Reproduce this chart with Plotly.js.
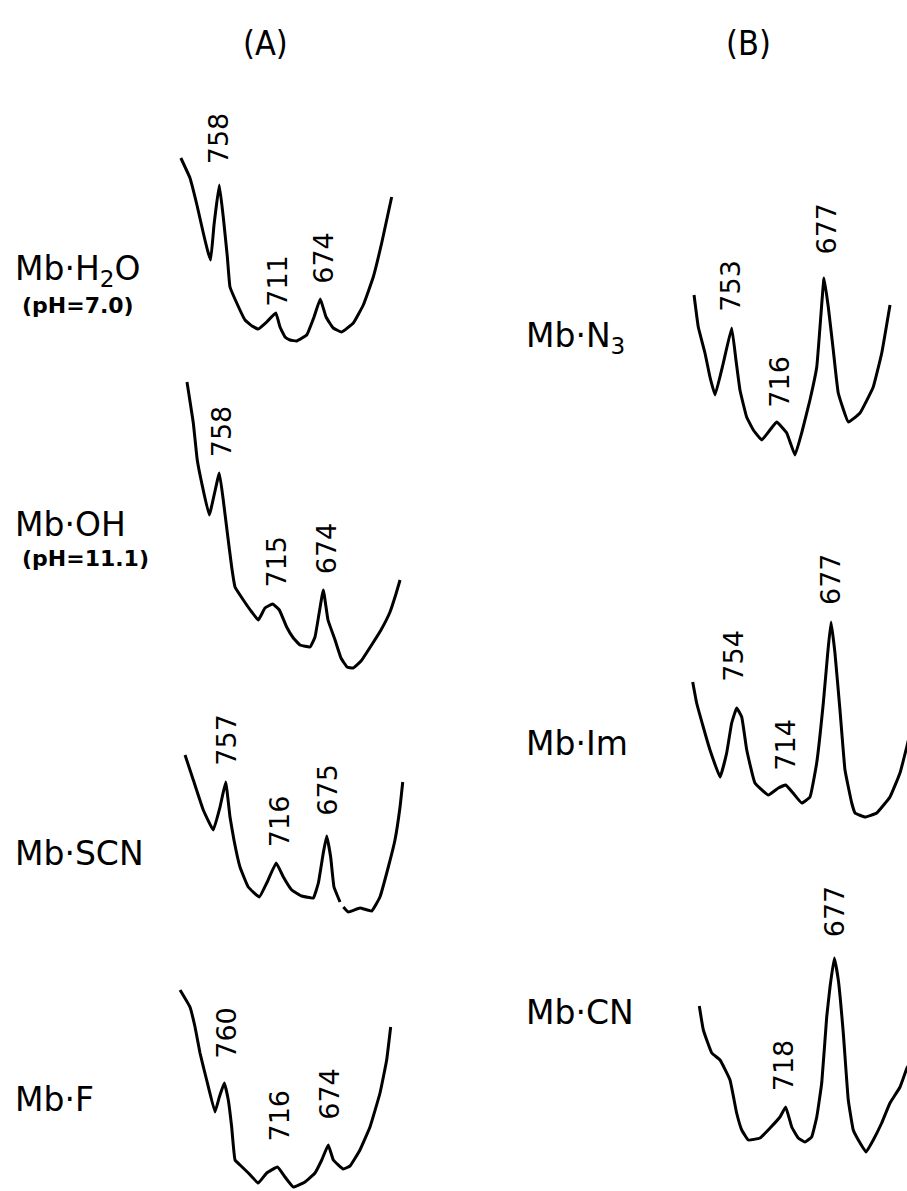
<!DOCTYPE html>
<html><head><meta charset="utf-8">
<script src="https://cdn.plot.ly/plotly-3.0.1.min.js"></script>
<style>html,body{margin:0;padding:0;background:#fff}#chart{width:907px;height:1191px}</style>
</head><body><div id="chart"></div>
<script>
// ---- spectra: wavenumber (cm-1) and relative intensity (arb. units) ----
const h2oWn  = [790,782.4,776.6,771.3,767.4,765.2,762.4,758,754.7,751.3,749.1,743.5,736.6,730.8,725.6,718.6,711,707.5,703.3,699.2,693.6,685.3,679.2,674,669.2,663.2,656.2,646.5,638.2,629.9,622.9,618.2,614.6];
const h2oInt = [183,163,136,108,89,81,116,156,124,84,54,38,21,15,12,19,28,14,4,1,0,6,24,42,24,13,9,18,36,64,98,124,144];

const ohWn  = [784.1,779,775.8,772.2,766.1,758,754.8,751.5,748,745.3,738.6,731.8,726.5,721.1,715,709.5,703.6,698.2,692.8,684.7,680.7,674,670.2,664.5,659.7,654.8,650,643.5,635.5,627.4,620.1,615.3,612];
const ohInt = [286,245,208,185,153,195,168,135,101,81,68,56,48,60,64,58,41,30,23,21,31,78,48,28,10,1,0,7,22,38,56,74,88];

const scnWn  = [790,783.3,775.2,767.1,761.6,757,753.5,750.3,745.4,738.7,729.7,723.7,716,710.2,703.4,695.3,685.9,681.8,677.8,675,671.8,669.1,664.2,null,661.5,657.5,648,638.5,631.8,625,619.6,615.5,613.3];
const scnInt = [157,132,102,82,105,130,95,72,45,25,15,29,49,35,22,16,14,29,59,76,55,25,10,null,5,0,4,1,15,45,72,105,130];

const fWn  = [796.6,788.4,784.2,780.1,774.6,767.7,764.1,760,756.7,753.9,751.1,747,740.1,731.9,724.9,716,709.8,702.9,693.3,685,679.4,674,669.8,661.6,656,647.8,639.5,631.2,625.7,622.4];
const fInt = [197,180,160,134,107,75,90,104,87,60,27,22,14,4,14,20,10,0,5,14,27,42,27,18,21,37,60,94,127,160];

const n3Wn  = [784,780.5,775,770.9,766.7,759.9,753,749.5,746.2,740.7,735.2,728.3,721.5,716,707.7,700.9,695.4,688.6,683,679.7,677,673.5,669.4,665.3,657,647.4,636.5,629.5,622.7];
const n3Int = [160,128,102,78,60,92,127,95,65,38,25,15,25,33,22,0,22,55,88,138,177,148,105,62,33,42,68,102,150];

const imWn  = [789.9,786.7,781.3,775.8,767.6,762.2,758.1,754,749.9,745.8,739.1,728.2,720,714,708,700.9,694.2,688.7,683.3,679.7,677,673.8,669.7,665.6,660.1,657.4,649.3,639.7,628.9,620.7,615.2,610.9];
const imInt = [135,114,90,67,40,64,94,109,100,67,34,22,29,32,24,14,20,54,114,164,195,164,107,47,14,4,0,4,20,44,70,92];

const cnWn  = [790.9,787.5,780.4,773.4,765,759.4,755.1,749.6,739.7,731.2,722.8,718,712.9,707.4,701.7,696.1,691.8,687.6,683.4,680.6,677,673.6,669.4,665.2,661,656.7,650.2,644.1,637,630,621.5,615.6,611.4];
const cnInt = [146,122,99,92,72,39,22,12,14,24,35,45,25,14,10,15,35,69,135,165,194,172,119,52,22,12,0,12,29,49,65,84,92];

// peak labels (cm-1)
const h2oPeaks = [758,711,674];
const ohPeaks  = [758,715,674];
const scnPeaks = [757,716,675];
const fPeaks   = [760,716,674];
const n3Peaks  = [753,716,677];
const imPeaks  = [754,714,677];
const cnPeaks  = [718,677];

// text
const panelTitles = ["(A)","(B)"];
const sampleNames = ["Mb·H<sub>2</sub>O","Mb·OH","Mb·SCN","Mb·F","Mb·N<sub>3</sub>","Mb·Im","Mb·CN"];
const phNotes = ["(pH=7.0)","(pH=11.1)"];

// ---- layout / placement (page pixels) ----
const W = 907, H = 1191;
const spectra = [
  {wn:h2oWn, it:h2oInt, peaks:h2oPeaks, ref:[758,219.3,1.202,341],  shifts:[[-1,47],[1,32],[2.5,41]]},
  {wn:ohWn,  it:ohInt,  peaks:ohPeaks,  ref:[758,219.3,1.238,668],  shifts:[[2,42],[3,42],[3,42]]},
  {wn:scnWn, it:scnInt, peaks:scnPeaks, ref:[757,225.7,1.232,912],  shifts:[[0,42],[3,42],[0,46]]},
  {wn:fWn,   it:fInt,   peaks:fPeaks,   ref:[760,224.3,1.209,1187], shifts:[[1.5,50],[1,51],[0.5,51]]},
  {wn:n3Wn,  it:n3Int,  peaks:n3Peaks,  ref:[753,731.7,1.215,455],  shifts:[[-2,42],[2,40],[1.5,49]]},
  {wn:imWn,  it:imInt,  peaks:imPeaks,  ref:[754,736.7,1.225,817],  shifts:[[-4,52],[-1,40],[-0.5,42.5]]},
  {wn:cnWn,  it:cnInt,  peaks:cnPeaks,  ref:[718,785.7,1.185,1152], shifts:[[-2.4,42],[0,47]]}
];

const FONT = "DejaVu Sans, Liberation Sans, sans-serif";
const NARROW = "Liberation Sans Narrow, DejaVu Sans Condensed, Liberation Sans, sans-serif";
const traces = [];
const layout = {
  width: W, height: H, margin:{l:0,r:0,t:0,b:0},
  paper_bgcolor:"#fff", plot_bgcolor:"#fff", showlegend:false,
  annotations: []
};

spectra.forEach((s, i) => {
  const n = i + 1;
  const xa = n === 1 ? "xaxis" : "xaxis" + n;
  const ya = n === 1 ? "yaxis" : "yaxis" + n;
  const xr = n === 1 ? "x" : "x" + n;
  const yr = n === 1 ? "y" : "y" + n;
  const [wnRef, pxRef, k, y0] = s.ref;
  layout[xa] = {domain:[0,1], range:[wnRef + pxRef/k, wnRef - (W - pxRef)/k], visible:false, anchor:yr, fixedrange:true};
  layout[ya] = {domain:[0,1], range:[y0 - H, y0], visible:false, anchor:xr, fixedrange:true};
  if (n > 1) { layout[xa].overlaying = "x"; layout[ya].overlaying = "y"; }
  traces.push({x:s.wn, y:s.it, xaxis:xr, yaxis:yr, type:"scatter", mode:"lines",
    line:{color:"#000", width:3, shape:"spline", smoothing:0.3}, connectgaps:false, hoverinfo:"skip"});
  s.peaks.forEach((p, j) => {
    const idx = s.wn.indexOf(p);
    layout.annotations.push({xref:xr, yref:yr, x:p, y:s.it[idx], text:String(p), showarrow:false,
      textangle:-90, xanchor:"center", yanchor:"middle", xshift:s.shifts[j][0], yshift:s.shifts[j][1],
      font:{family:FONT, size:27, color:"#000"}});
  });
});

function paperText(text, px, py, size, anchor, family, weight) {
  layout.annotations.push({xref:"paper", yref:"paper", x:px/W, y:1 - py/H, text:text, showarrow:false,
    xanchor:anchor, yanchor:"middle", font:{family:family||FONT, size:size, color:"#000", weight:weight||"normal"}});
}
paperText(panelTitles[0], 265, 43, 34, "center", NARROW);
paperText(panelTitles[1], 748, 43, 34, "center", NARROW);
paperText(sampleNames[0], 13, 270, 33, "left");
paperText(phNotes[0], 20, 305, 22, "left", FONT, "bold");
paperText(sampleNames[1], 13, 524, 33, "left");
paperText(phNotes[1], 20, 558, 22, "left", FONT, "bold");
paperText(sampleNames[2], 13, 853, 33, "left");
paperText(sampleNames[3], 13, 1099, 33, "left");
paperText(sampleNames[4], 524, 337, 33, "left");
paperText(sampleNames[5], 524, 743, 33, "left");
paperText(sampleNames[6], 524, 1012, 33, "left");

Plotly.newPlot("chart", traces, layout, {staticPlot:true, displayModeBar:false});
</script>
</body></html>
